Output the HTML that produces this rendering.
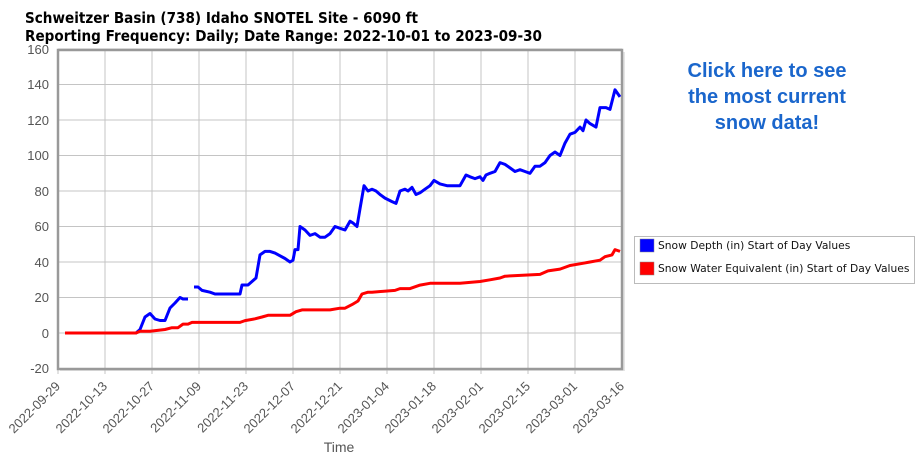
<!DOCTYPE html><html><head><style>body{margin:0;background:#fff;width:922px;height:456px;overflow:hidden;font-family:"Liberation Sans",Arial,sans-serif}</style></head><body>
<svg width="922" height="456" xmlns="http://www.w3.org/2000/svg" font-family="Liberation Sans, Arial, sans-serif">
<g font-family="DejaVu Sans, sans-serif" font-weight="bold" font-size="15" fill="#000">
<text x="25" y="23" textLength="393" lengthAdjust="spacingAndGlyphs">Schweitzer Basin (738) Idaho SNOTEL Site - 6090 ft</text>
<text x="25" y="41" textLength="517" lengthAdjust="spacingAndGlyphs">Reporting Frequency: Daily; Date Range: 2022-10-01 to 2023-09-30</text></g>
<g fill="#1a66cc" font-size="20" font-weight="bold" text-anchor="middle">
<text x="767" y="77">Click here to see</text><text x="767" y="103">the most current</text><text x="767" y="129">snow data!</text></g>
<rect x="60" y="52" width="565" height="319" fill="#ccc" opacity="0.5"/>
<rect x="58" y="50" width="564" height="319" fill="#fff"/>
<g stroke="#c4c4c4" stroke-width="1">
<path d="M58 49H622M58 84.5H622M58 120H622M58 155.5H622M58 191H622M58 226.5H622M58 262H622M58 297.5H622M58 333H622"/>
<path d="M105 50V374M152 50V374M199 50V374M246 50V374M293 50V374M340 50V374M387 50V374M434 50V374M481 50V374M528 50V374M575 50V374M58 369V374"/>
</g>
<rect x="58" y="50" width="564" height="319" fill="none" stroke="#999" stroke-width="2.5"/>
<g fill="#555" font-size="13" text-anchor="end">
<text x="49" y="54">160</text><text x="49" y="89">140</text><text x="49" y="125">120</text><text x="49" y="160">100</text><text x="49" y="196">80</text><text x="49" y="231">60</text><text x="49" y="267">40</text><text x="49" y="302">20</text><text x="49" y="338">0</text><text x="49" y="373">-20</text></g>
<g fill="#555" font-size="13" text-anchor="end">
<text transform="translate(61,387) rotate(-45)">2022-09-29</text>
<text transform="translate(108,387) rotate(-45)">2022-10-13</text>
<text transform="translate(155,387) rotate(-45)">2022-10-27</text>
<text transform="translate(202,387) rotate(-45)">2022-11-09</text>
<text transform="translate(249,387) rotate(-45)">2022-11-23</text>
<text transform="translate(296,387) rotate(-45)">2022-12-07</text>
<text transform="translate(343,387) rotate(-45)">2022-12-21</text>
<text transform="translate(390,387) rotate(-45)">2023-01-04</text>
<text transform="translate(437,387) rotate(-45)">2023-01-18</text>
<text transform="translate(484,387) rotate(-45)">2023-02-01</text>
<text transform="translate(531,387) rotate(-45)">2023-02-15</text>
<text transform="translate(578,387) rotate(-45)">2023-03-01</text>
<text transform="translate(625,387) rotate(-45)">2023-03-16</text>
</g>
<text x="339" y="452" fill="#555" font-size="14" text-anchor="middle">Time</text>
<g fill="none" stroke-width="3" stroke-linejoin="round">
<polyline stroke="#00f" points="65,333 136,333 140,329.5 145,317 150,313.5 155,319 160,320.5 165,320.5 170,308 175,303 180,297.5 183,299 188,299"/>
<polyline stroke="#00f" points="194,287 198,287 202,290.4 210,292.2 215,294 240,294 242,285 248,285 252,281.5 256,278 260,254.9 265,251.4 270,251.4 275,253.1 285,258.5 290,262 293,260.2 295,249.6 298,249.6 300,226.5 305,230 310,235.4 315,233.6 320,237.2 325,237.2 330,233.6 335,226.5 340,228.3 345,230 350,221.2 353,223 357,226.5 360,208.8 364,185.7 368,191 372,189.2 376,191 380,194.5 385,198.1 392,201.6 396,203.4 400,191 405,189.2 408,191 412,187.4 416,194.5 420,192.8 425,189.2 430,185.7 434,180.4 440,183.9 447,185.7 455,185.7 460,185.7 466,175 470,176.8 475,178.6 480,176.8 483,180.4 486,175 490,173.3 495,171.5 500,162.6 505,164.4 510,167.9 515,171.5 520,169.7 525,171.5 530,173.3 535,166.2 540,166.2 545,162.6 550,155.5 555,152 560,155.5 565,143.1 570,134.2 575,132.4 580,127.1 583,130.7 586,120 590,123.6 596,127.1 600,107.6 606,107.6 610,109.4 615,89.8 620,96.9"/>
<polyline stroke="#f00" points="65,333 136,333 140,331.2 150,331.2 165,329.5 172,327.7 178,327.7 183,324.1 188,324.1 192,322.4 240,322.4 245,320.6 255,318.8 262,317 268,315.3 290,315.3 296,311.7 302,309.9 330,309.9 340,308.2 345,308.2 352,304.6 358,301 362,294 368,292.2 372,292.2 395,290.4 400,288.6 410,288.6 420,285.1 430,283.3 460,283.3 480,281.5 490,279.8 500,278 505,276.2 540,274.4 548,270.9 560,269.1 570,265.5 580,263.8 590,262 600,260.2 605,256.7 612,254.9 615,249.6 620,251.4"/>
</g>
<rect x="634.5" y="236.5" width="280" height="47" fill="#fff" stroke="#bbb"/>
<rect x="640" y="239" width="14" height="13" fill="#00f" stroke="#888" stroke-width="0.5"/>
<rect x="640" y="262" width="14" height="13" fill="#f00" stroke="#888" stroke-width="0.5"/>
<g font-family="DejaVu Sans, sans-serif" font-size="10.7" fill="#111">
<text x="658" y="249">Snow Depth (in) Start of Day Values</text>
<text x="658" y="272">Snow Water Equivalent (in) Start of Day Values</text></g>
</svg></body></html>
